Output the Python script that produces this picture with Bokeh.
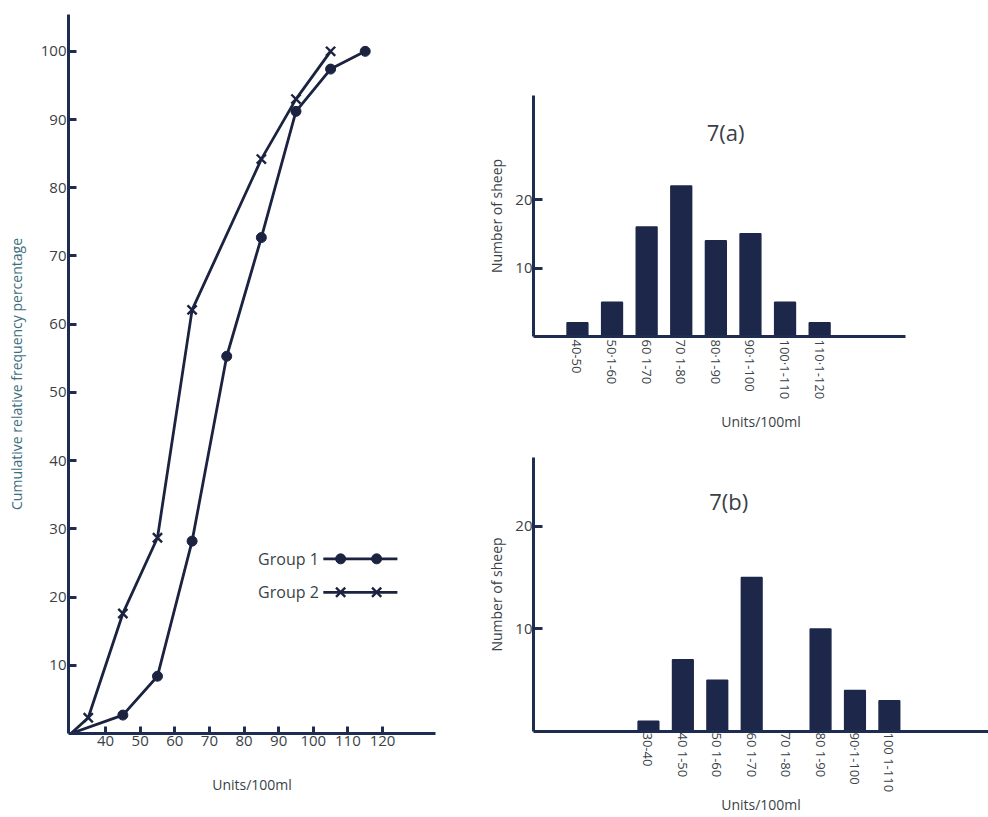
import math
from bokeh.plotting import figure
from bokeh.layouts import row, column
from bokeh.models import Range1d, FixedTicker, Label
from bokeh.core.properties import value
from bokeh.embed import file_html
from bokeh.resources import INLINE

# ---------------- data ----------------
# Cumulative curve (left)
g1_x = [30, 45, 55, 65, 75, 85, 95, 105, 115]
g1_y = [0, 2.7, 8.4, 28.2, 55.3, 72.7, 91.2, 97.4, 100]
g2_x = [30, 35, 45, 55, 65, 85, 95, 105]
g2_y = [0, 2.3, 17.6, 28.7, 62.1, 84.2, 93.0, 100]
cum_xticks = [40, 50, 60, 70, 80, 90, 100, 110, 120]
cum_yticks = [10, 20, 30, 40, 50, 60, 70, 80, 90, 100]

# Histogram 7(a)
a_labels = ["40-50", "50·1-60", "60 1-70", "70 1-80", "80·1-90", "90·1-100", "100·1-110", "110·1-120"]
a_counts = [2, 5, 16, 22, 14, 15, 5, 2]

# Histogram 7(b)
b_labels = ["30-40", "40 1-50", "50 1-60", "60 1-70", "70 1-80", "80 1-90", "90·1-100", "100 1-110"]
b_counts = [1, 7, 5, 15, 0, 10, 4, 3]

hist_yticks = [10, 20]

# ---------------- style ----------------
FONT = "Open Sans"
AXIS_C = "#1f2c52"
LINE_C = "#1b2340"
TEXT_C = "#3a3f48"
YLAB_C = "#3e6e7e"
BAR_C = "#1c2749"


def style_axes(p, xlabel, ylabel, ylab_color):
    for ax in (p.xaxis[0], p.yaxis[0]):
        ax.axis_line_color = AXIS_C
        ax.axis_line_width = 3
        ax.major_tick_line_color = AXIS_C
        ax.major_tick_line_width = 3
        ax.minor_tick_line_color = None
        ax.major_label_text_font = FONT
        ax.major_label_text_color = TEXT_C
        ax.axis_label_text_font = FONT
        ax.axis_label_text_font_style = "normal"
        ax.axis_label_text_color = TEXT_C
    p.xaxis.axis_label = xlabel
    p.yaxis.axis_label = ylabel
    p.yaxis.axis_label_text_color = ylab_color
    p.xgrid.visible = False
    p.ygrid.visible = False
    p.outline_line_color = None
    p.background_fill_color = "white"
    p.border_fill_color = "white"


# ---------------- left: cumulative ----------------
left = figure(width=440, height=817, output_backend="svg", toolbar_location=None,
              x_range=Range1d(29.3, 135.3), y_range=Range1d(0, 105.4),
              min_border_left=68, min_border_right=5, min_border_top=14, min_border_bottom=84)
style_axes(left, "Units/100ml", "Cumulative relative frequency percentage", YLAB_C)
left.xaxis.ticker = FixedTicker(ticks=cum_xticks)
left.yaxis.ticker = FixedTicker(ticks=cum_yticks)
left.xaxis.major_tick_in = 7
left.xaxis.major_tick_out = 0
left.yaxis.major_tick_in = 8
left.yaxis.major_tick_out = 0
left.xaxis.major_label_standoff = 2
left.yaxis.major_label_standoff = 2
left.xaxis.major_label_text_font_size = "15px"
left.yaxis.major_label_text_font_size = "15px"
left.xaxis.axis_label_text_font_size = "14px"
left.yaxis.axis_label_text_font_size = "14px"
left.xaxis.axis_label_standoff = 26
left.yaxis.axis_label_standoff = 12

left.line(g1_x, g1_y, line_color=LINE_C, line_width=2.8)
left.scatter(g1_x[1:], g1_y[1:], marker="circle", size=10, fill_color=LINE_C, line_color=LINE_C)
left.line(g2_x, g2_y, line_color=LINE_C, line_width=2.8)
left.scatter(g2_x[1:], g2_y[1:], marker="x", size=13, line_color=LINE_C, line_width=2.4)

# legend (drawn manually: label left of sample)
leg_x0, leg_x1 = 102.9, 124.3
leg_m = [107.9, 118.3]
leg_y = [25.6, 20.7]
leg_text_x = 101.6
leg_names = ["Group 1", "Group 2"]
leg_markers = ["circle", "x"]
for name, yy, mk in zip(leg_names, leg_y, leg_markers):
    left.line([leg_x0, leg_x1], [yy, yy], line_color=LINE_C, line_width=2.8)
    if mk == "circle":
        left.scatter(leg_m, [yy, yy], marker="circle", size=10, fill_color=LINE_C, line_color=LINE_C)
    else:
        left.scatter(leg_m, [yy, yy], marker="x", size=13, line_color=LINE_C, line_width=2.4)
    left.text([leg_text_x], [yy], text=[name], text_align="right", text_baseline="middle",
              text_font=value(FONT), text_font_size="16px", text_color=TEXT_C)


# ---------------- histograms ----------------
def hist(width, height, labels, counts, x_range, axis_end, y_end, borders, title, title_xy,
         lab_standoff, xlab_standoff):
    p = figure(width=width, height=height, output_backend="svg", toolbar_location=None,
               x_range=Range1d(*x_range), y_range=Range1d(0, y_end),
               min_border_left=borders[0], min_border_right=borders[1],
               min_border_top=borders[2], min_border_bottom=borders[3])
    style_axes(p, "Units/100ml", "Number of sheep", TEXT_C)
    idx = list(range(len(labels)))
    p.vbar(x=idx, top=counts, width=0.6, fill_color=BAR_C, line_color=BAR_C, line_width=1.5)
    p.xaxis.ticker = FixedTicker(ticks=idx)
    p.xaxis.bounds = (x_range[0], axis_end)
    if axis_end >= x_range[1]:
        # baseline continued across the whole frame
        p.segment(x0=[x_range[0]], x1=[axis_end], y0=[0], y1=[0],
                  line_color=AXIS_C, line_width=3)
    p.xaxis.major_label_overrides = {i: lab for i, lab in zip(idx, labels)}
    p.xaxis.major_label_orientation = -math.pi / 2
    p.xaxis.major_tick_line_color = None
    p.xaxis.major_tick_in = 0
    p.xaxis.major_tick_out = 0
    p.xaxis.major_label_standoff = lab_standoff
    p.xaxis.major_label_text_font_size = "13px"
    p.xaxis.axis_label_text_font_size = "14px"
    p.xaxis.axis_label_standoff = xlab_standoff
    p.yaxis.ticker = FixedTicker(ticks=hist_yticks)
    p.yaxis.major_tick_in = 9
    p.yaxis.major_tick_out = 0
    p.yaxis.major_label_standoff = 1
    p.yaxis.major_label_text_font_size = "15px"
    p.yaxis.axis_label_text_font_size = "14px"
    p.yaxis.axis_label_standoff = 6
    p.add_layout(Label(x=title_xy[0], y=title_xy[1], text=title, text_align="center",
                       text_baseline="middle", text_font=FONT, text_font_size="22px",
                       text_color=TEXT_C))
    return p


top = hist(548, 440, a_labels, a_counts, (-1.27, 11.88), 9.48, 35.2, (93, 0, 95, 104),
           "7(a)", (4.28, 29.8), 3, 10)
bot = hist(548, 377, b_labels, b_counts, (-3.34, 9.88), 9.88, 26.7, (93, 0, 17, 86),
           "7(b)", (2.33, 22.5), 1, 0)

layout = row(left, column(top, bot))
open("out.html", "w").write(file_html(layout, INLINE))
